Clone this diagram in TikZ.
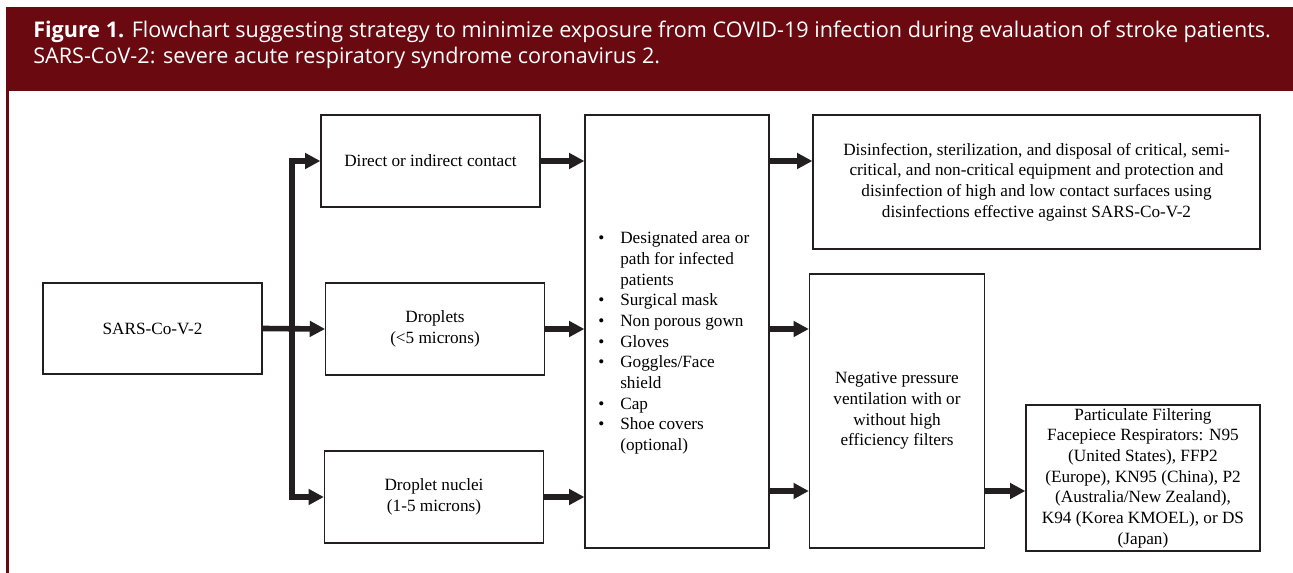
\documentclass[tikz,border=0pt]{standalone}
\usepackage{fontspec}
\setmainfont{Liberation Serif}
\newfontfamily\capfont{Open Sans}
\usetikzlibrary{arrows.meta}
\definecolor{bandred}{RGB}{107,9,17}
\definecolor{ink}{RGB}{35,31,32}

\begin{document}
\begin{tikzpicture}[x=0.75pt, y=-0.75pt,
    box/.style={draw=ink, line width=1pt, inner sep=2pt, align=center, font=\fontsize{12.9}{15.5}\selectfont},
    flow/.style={draw=ink, line width=4.2pt, -{Triangle[length=11.5pt, width=11.5pt]}},
    caption/.style={anchor=base west, inner sep=0pt, text=white, font=\capfont\fontsize{16.2}{18}\selectfont}]

    \useasboundingbox (0,0) rectangle (1293,573);

    % Header
    \fill[bandred] (6,7) rectangle (1293,91);
    \fill[bandred] (6,91) rectangle (8.5,573);
    \node[caption] (title) at (33,38) {\textbf{Figure 1.} Flowchart suggesting strategy to minimize exposure from COVID-19 infection during evaluation of stroke patients.};
    \node[caption] (subtitle) at (33,64) {SARS-CoV-2: severe acute respiratory syndrome coronavirus 2.};

    % Routes
    \node[box, minimum width=164.25pt, minimum height=68.25pt] (sars) at (152.5,328.5) {SARS-Co-V-2};
    \node[box, minimum width=164.25pt, minimum height=69pt] (contact) at (430.5,161) {Direct or indirect contact};
    \node[box, minimum width=163.9pt, minimum height=69pt] (drop) at (435,329) {Droplets\\(<5 microns)};
    \node[box, minimum width=164.25pt, minimum height=69pt] (nuclei) at (434,497) {Droplet nuclei\\(1-5 microns)};

    % Measures
    \node[box, minimum width=138pt, minimum height=324.75pt] (ppe) at (677,331.5) {};
    \node[anchor=west, inner sep=0pt, font=\fontsize{12.9}{15.5}\selectfont] (items) at (598,343) {%
        \begin{tabular}{@{}l@{\hspace{12pt}}l@{}}
        \textbullet & Designated area or\\
                    & path for infected\\
                    & patients\\
        \textbullet & Surgical mask\\
        \textbullet & Non porous gown\\
        \textbullet & Gloves\\
        \textbullet & Goggles/Face\\
                    & shield\\
        \textbullet & Cap\\
        \textbullet & Shoe covers\\
                    & (optional)
        \end{tabular}};
    \node[box, minimum width=335.25pt, minimum height=100.5pt] (disinf) at (1036.5,182) {Disinfection, sterilization, and disposal of critical, semi-\\critical, and non-critical equipment and protection and\\disinfection of high and low contact surfaces using\\disinfections effective against SARS-Co-V-2};
    \node[box, minimum width=131.25pt, minimum height=205.7pt] (negp) at (897,411) {Negative pressure\\ventilation with or\\without high\\efficiency filters};
    \node[box, minimum width=175.5pt, minimum height=109.3pt, inner sep=0.5pt] (pffr) at (1143,478) {Particulate Filtering\\Facepiece Respirators: N95\\(United States), FFP2\\(Europe), KN95 (China), P2\\(Australia/New Zealand),\\K94 (Korea KMOEL), or DS\\(Japan)};

    % Arrows
    \coordinate (split) at (292,329);
    \coordinate (low) at (0,491);
    \draw[flow] (sars.east) -- (drop.west);
    \draw[flow] (split) |- (contact.west);
    \draw[flow] (split) |- (nuclei.west);
    \draw[flow] (contact.east) -- (contact.east -| ppe.west);
    \draw[flow] (drop.east) -- (drop.east -| ppe.west);
    \draw[flow] (nuclei.east) -- (nuclei.east -| ppe.west);
    \draw[flow] (ppe.east |- contact) -- (disinf.west |- contact);
    \draw[flow] (ppe.east |- drop) -- (negp.west |- drop);
    \draw[flow] (ppe.east |- low) -- (negp.west |- low);
    \draw[flow] (negp.east |- low) -- (pffr.west |- low);

\end{tikzpicture}
\end{document}
